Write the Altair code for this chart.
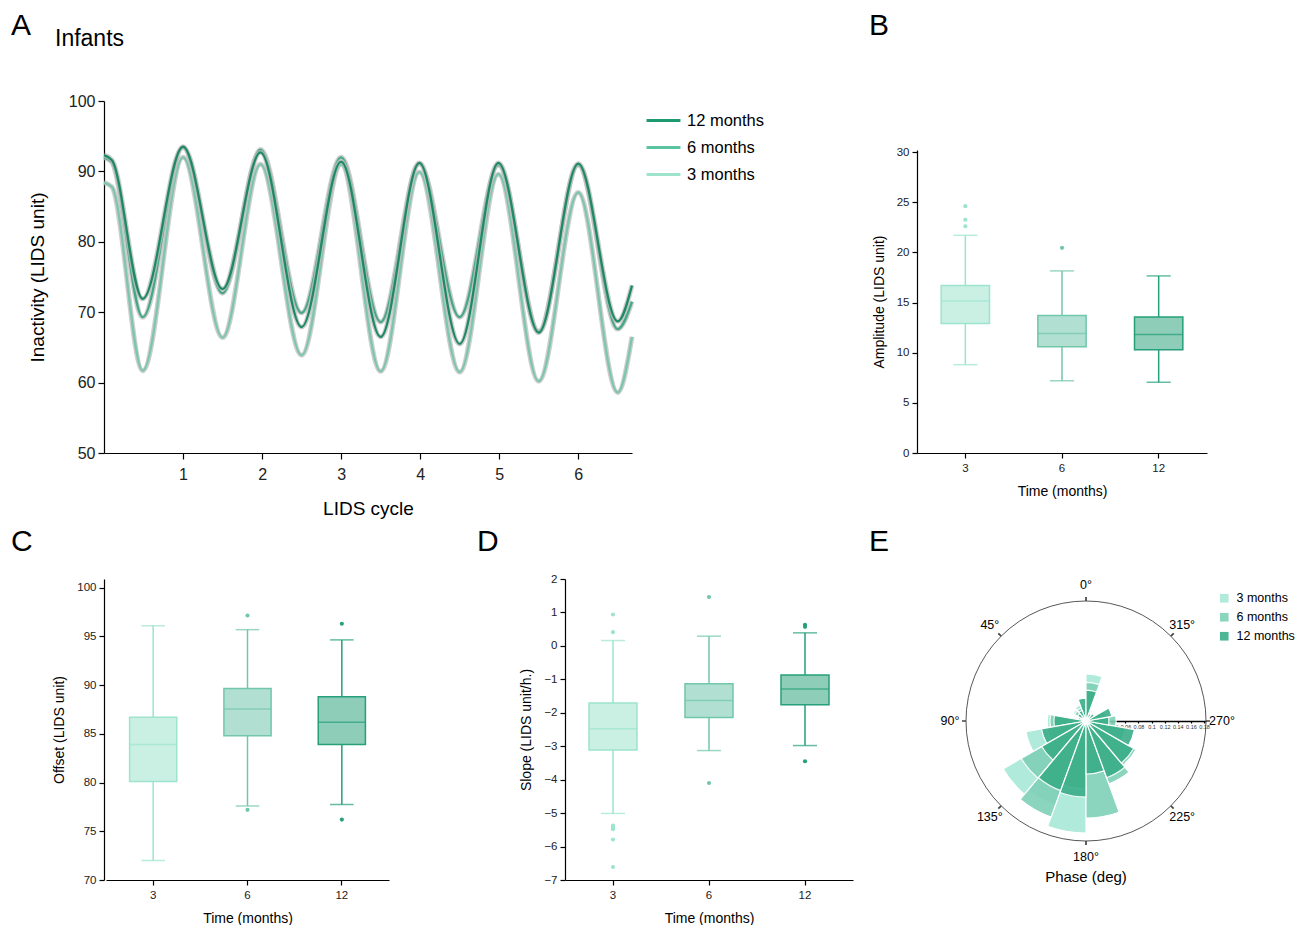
import math
import altair as alt
import pandas as pd

FONT = "Liberation Sans"

# ---------------- Panel A: LIDS inactivity curves ----------------
cycle_pts = [0.0, 0.1, 0.49, 1.0, 1.5, 1.98, 2.5, 3.0, 3.5, 3.99, 4.5, 4.99, 5.5, 6.0, 6.5, 6.68]
lids_12 = [92.3, 91.6, 71.9, 93.5, 73.3, 92.7, 67.9, 91.4, 66.5, 91.2, 65.5, 91.2, 67.1, 91.1, 68.7, 73.8]
lids_6 = [92.0, 91.3, 69.3, 93.4, 72.7, 93.1, 69.9, 92.0, 68.6, 91.1, 69.3, 90.9, 67.3, 90.9, 67.6, 71.5]
lids_3 = [88.4, 87.8, 61.7, 92.0, 66.4, 91.0, 63.9, 91.0, 61.6, 89.9, 61.5, 89.6, 60.2, 87.0, 58.6, 66.5]
series_names = ["12 months", "6 months", "3 months"]
legend_colors = ["#1e9a72", "#5cc3a0", "#9ee3cc"]
line_colors = {"12 months": "#1d8a64", "6 months": "#45a886", "3 months": "#7cc6ad"}

# ---------------- Box plot summaries (B, C, D) ----------------
months = ["3", "6", "12"]
box_fill = ["#c9f0e3", "#b1e0d3", "#8ecdb8"]
box_stroke = ["#9ce4cd", "#72c6a9", "#25a07a"]

amp_low = [8.8, 7.2, 7.05]
amp_q1 = [12.9, 10.6, 10.3]
amp_med = [15.15, 11.9, 11.8]
amp_q3 = [16.7, 13.7, 13.55]
amp_high = [21.7, 18.15, 17.65]
amp_out_t = ["3", "3", "3", "6"]
amp_out_v = [22.6, 23.25, 24.6, 20.45]

off_low = [72.0, 77.6, 77.75]
off_q1 = [80.1, 84.8, 83.9]
off_med = [83.9, 87.55, 86.2]
off_q3 = [86.7, 89.65, 88.8]
off_high = [96.1, 95.7, 94.65]
off_out_t = ["6", "6", "12", "12"]
off_out_v = [97.15, 77.2, 96.3, 76.2]

slp_low = [-5.01, -3.13, -2.98]
slp_q1 = [-3.11, -2.14, -1.76]
slp_med = [-2.48, -1.63, -1.29]
slp_q3 = [-1.71, -1.13, -0.87]
slp_high = [0.16, 0.29, 0.39]
slp_out_t = ["3", "3", "3", "3", "3", "3", "3", "6", "6", "12", "12", "12"]
slp_out_v = [0.94, 0.41, -5.37, -5.43, -5.48, -5.79, -6.61, 1.46, -4.10, 0.63, 0.57, -3.45]

# ---------------- Panel E: phase histogram (polar) ----------------
phase_bins = list(range(0, 360, 20))
phase_3 = [0.018, 0.026, 0.023, 0.009, 0.059, 0.093, 0.146, 0.137, 0.171, 0.058,
           0.076, 0.069, 0.046, 0.031, 0.021, 0.009, 0.008, 0.072]
phase_6 = [0.024, 0.021, 0.020, 0.012, 0.055, 0.061, 0.114, 0.156, 0.104, 0.148,
           0.102, 0.088, 0.061, 0.046, 0.031, 0.012, 0.011, 0.059]
phase_12 = [0.035, 0.017, 0.015, 0.008, 0.049, 0.069, 0.078, 0.113, 0.116, 0.081,
            0.092, 0.084, 0.075, 0.035, 0.040, 0.015, 0.012, 0.047]
phase_groups = ["3 months", "6 months", "12 months"]
phase_colors = ["#a8e8d6", "#7fd0b6", "#3aae88"]
angle_ticks = [0, 45, 90, 135, 180, 225, 270, 315]
radial_ticks = [0, 0.02, 0.04, 0.06, 0.08, 0.1, 0.12, 0.14, 0.16, 0.18]

one = pd.DataFrame({"k": [0]})


def letter(txt, dx, dy, size=30):
    return alt.Chart(one).mark_text(text=txt, fontSize=size, align="left",
                                    baseline="alphabetic", font=FONT, color="black").encode(
        x=alt.value(dx), y=alt.value(dy))


# ---------- Panel A ----------
A_W, A_H = 528, 352
xA = alt.X("cycle:Q", scale=alt.Scale(domain=[0, 6.68], nice=False, zero=False),
           axis=alt.Axis(values=[1, 2, 3, 4, 5, 6], title="LIDS cycle", labelFontSize=16,
                         titleFontSize=19, tickSize=6, labelPadding=7, titlePadding=17))
yA = alt.Y("val:Q", scale=alt.Scale(domain=[50, 100], nice=False, zero=False),
           axis=alt.Axis(values=[50, 60, 70, 80, 90, 100], title="Inactivity (LIDS unit)",
                         labelFontSize=16, titleFontSize=19, tickSize=6, labelPadding=3,
                         titlePadding=21))
colA = alt.Color("series:N", scale=alt.Scale(domain=series_names, range=legend_colors),
                 legend=alt.Legend(orient="none", legendX=541, legendY=1, title=None,
                                   symbolType="stroke", symbolStrokeWidth=3, symbolSize=1150,
                                   labelFontSize=16.5, labelFont=FONT, rowPadding=-0.5,
                                   labelOffset=5, labelColor="black"))
layersA = []
# legend-only layer: one point per series draws no visible line
legdf = pd.DataFrame({"cycle": [cycle_pts[0]] * 3, "val": [lids_12[0]] * 3, "series": series_names})
layersA.append(alt.Chart(legdf).mark_line().encode(x=xA, y=yA, color=colA))
for name, vals in [("3 months", lids_3), ("6 months", lids_6), ("12 months", lids_12)]:
    df = pd.DataFrame({"cycle": cycle_pts, "val": vals})
    layersA.append(alt.Chart(df).mark_line(interpolate="monotone", strokeWidth=5,
                                           color="#bdbdbd", opacity=0.75).encode(x=xA, y=yA))
    layersA.append(alt.Chart(df).mark_line(interpolate="monotone", strokeWidth=2.3,
                                           color=line_colors[name]).encode(x=xA, y=yA))
layersA.append(letter("A", -93, -66))
layersA.append(letter("Infants", -49, -55, 23))
panelA = alt.layer(*layersA).properties(width=A_W, height=A_H)


# ---------- Box panels ----------
def box_panel(low, q1, med, q3, high, out_t, out_v, ydom, yticks, ytitle, width, height,
              yrange=None, xrange=None, lab=None):
    df = pd.DataFrame({"t": months, "low": low, "q1": q1, "med": med, "q3": q3, "high": high})
    odf = pd.DataFrame({"t": out_t, "v": out_v})
    sc = dict(domain=ydom, nice=False, zero=False)
    if yrange is not None:
        sc["range"] = yrange
    yscale = alt.Scale(**sc)
    yax = alt.Axis(values=yticks, title=ytitle, labelFontSize=11.5, titleFontSize=14,
                   tickSize=5, labelPadding=3, titlePadding=10)
    xsc = dict(domain=months, paddingInner=0, paddingOuter=0)
    if xrange is not None:
        xsc["range"] = xrange
        plot_w = xrange[1] - xrange[0]
    else:
        plot_w = width
    xenc = alt.X("t:N", sort=months, scale=alt.Scale(**xsc),
                 axis=alt.Axis(title="Time (months)", labelAngle=0, labelFontSize=11.5,
                               titleFontSize=14, tickSize=5, labelPadding=4, titlePadding=10.5))

    def Y(f):
        return alt.Y(f, scale=yscale, axis=yax)

    col = alt.Color("t:N", scale=alt.Scale(domain=months, range=box_stroke), legend=None)
    bw = plot_w / 3 * 0.5
    base = alt.Chart(df)
    whisk = base.mark_rule(strokeWidth=1.5).encode(x=xenc, y=Y("low:Q"), y2="high:Q", color=col)
    box = base.mark_bar(width=bw, strokeWidth=1.5).encode(
        x=xenc, y=Y("q1:Q"), y2="q3:Q",
        fill=alt.Fill("t:N", scale=alt.Scale(domain=months, range=box_fill), legend=None),
        stroke=alt.Stroke("t:N", scale=alt.Scale(domain=months, range=box_stroke), legend=None))
    medt = base.mark_tick(thickness=1.5, size=bw).encode(x=xenc, y=Y("med:Q"), color=col)
    caplo = base.mark_tick(thickness=1.5, size=bw / 2).encode(x=xenc, y=Y("low:Q"), color=col)
    caphi = base.mark_tick(thickness=1.5, size=bw / 2).encode(x=xenc, y=Y("high:Q"), color=col)
    outl = alt.Chart(odf).mark_circle(size=17, opacity=1).encode(x=xenc, y=Y("v:Q"), color=col)
    layers = [whisk, box, medt, caplo, caphi, outl]
    if lab is not None:
        layers.append(letter(*lab))
    return alt.layer(*layers).properties(width=width, height=height)


panelB = box_panel(amp_low, amp_q1, amp_med, amp_q3, amp_high, amp_out_t, amp_out_v,
                   [0, 30.2], [0, 5, 10, 15, 20, 25, 30], "Amplitude (LIDS unit)", 290, A_H,
                   yrange=[A_H, 49], lab=("B", -48, -66))
panelC = box_panel(off_low, off_q1, off_med, off_q3, off_high, off_out_t, off_out_v,
                   [70, 100.9], [70, 75, 80, 85, 90, 95, 100], "Offset (LIDS unit)", 348, 301,
                   xrange=[2, 285], lab=("C", -93, -28))
panelD = box_panel(slp_low, slp_q1, slp_med, slp_q3, slp_high, slp_out_t, slp_out_v,
                   [-7, 2], [-7, -6, -5, -4, -3, -2, -1, 0, 1, 2], "Slope (LIDS unit/h.)", 288, 301,
                   lab=("D", -88, -28))

# ---------- Panel E ----------
E_W, E_H = 240, 284
theta_scale = alt.Scale(domain=[0, 360], range=[2 * math.pi, 0])
r_scale = alt.Scale(type="linear", domain=[0, 0.183], range=[0, 120], zero=True)
colE = alt.Color("grp:N", scale=alt.Scale(domain=phase_groups, range=phase_colors),
                 legend=alt.Legend(orient="none", legendX=252, legendY=13, title=None,
                                   symbolType="square", symbolSize=75, labelFontSize=12.5,
                                   labelFont=FONT, rowPadding=6, labelColor="black",
                                   symbolStrokeWidth=0, labelOffset=6))
layersE = []
for g, vals in zip(phase_groups, [phase_3, phase_6, phase_12]):
    df = pd.DataFrame({"start": phase_bins, "val": vals, "grp": g})
    df["end"] = df["start"] + 20
    layersE.append(alt.Chart(df).mark_arc(stroke="white", strokeWidth=1.2, opacity=0.9).encode(
        theta=alt.Theta("start:Q", scale=theta_scale, stack=None),
        theta2="end:Q",
        radius=alt.Radius("val:Q", scale=r_scale),
        radius2=alt.value(0),
        color=colE))
angdf = pd.DataFrame({"ang": angle_ticks, "lab": [f"{a}°" for a in angle_ticks]})
layersE.append(alt.Chart(one).mark_arc(fillOpacity=0, stroke="#444444", strokeWidth=0.9).encode(
    theta=alt.value(0), theta2=alt.value(2 * math.pi), radius=alt.value(120)))
layersE.append(alt.Chart(angdf).transform_calculate(a0="datum.ang - 0.4", a1="datum.ang + 0.4")
               .mark_arc(color="#444444").encode(
    theta=alt.Theta("a0:Q", scale=theta_scale, stack=None), theta2="a1:Q",
    radius=alt.value(124), radius2=alt.value(120)))
layersE.append(alt.Chart(angdf).mark_text(fontSize=12.5, font=FONT, color="black").encode(
    theta=alt.Theta("ang:Q", scale=theta_scale, stack=None), radius=alt.value(136),
    text="lab:N"))
raddf = pd.DataFrame({"r": radial_ticks})
layersE.append(alt.Chart(raddf).mark_point(opacity=0).encode(
    x=alt.X("r:Q", scale=alt.Scale(domain=[0, 0.183], range=[120, 240], nice=False, zero=False),
            axis=alt.Axis(values=radial_ticks, format="~g", orient="bottom", offset=-142,
                          labelFontSize=5.5, tickSize=2, labelPadding=1, title=None,
                          domainColor="black", labelColor="#333333", domainWidth=1.3))))
layersE.append(alt.Chart(one).mark_text(text="Phase (deg)", fontSize=15, font=FONT,
                                        color="black").encode(x=alt.value(120), y=alt.value(298)))
layersE.append(letter("E", -97, -28))
panelE = alt.layer(*layersE).properties(width=E_W, height=E_H)

indep = dict(color="independent", fill="independent", stroke="independent",
             x="independent", y="independent")
row1 = alt.hconcat(panelA, panelB, spacing=285, bounds="flush").resolve_scale(**indep)
row2 = alt.hconcat(panelC, panelD, panelE, spacing=113, bounds="flush").resolve_scale(**indep)
chart = alt.vconcat(row1, row2, spacing=9).resolve_scale(**indep).properties(
    padding={"left": 3, "top": 3, "right": 5, "bottom": 5}
).configure_view(stroke=None).configure_axis(
    grid=False, domainColor="black", tickColor="black", labelColor="#222222",
    titleColor="black", labelFont=FONT, titleFont=FONT, titleFontWeight="normal",
    domainWidth=1.2, tickWidth=1.2
).configure_text(font=FONT)

chart.save("out.html", embed_options={"renderer": "svg", "actions": False})
